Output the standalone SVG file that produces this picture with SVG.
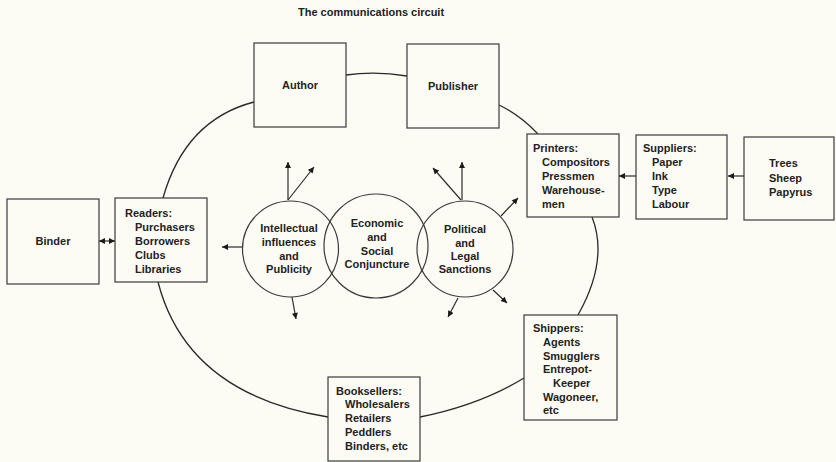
<svg xmlns="http://www.w3.org/2000/svg" width="836" height="462" viewBox="0 0 836 462">
<style>
.bg{fill:#fdfcf4}
.box{fill:#fdfcf4;stroke:#3a3a3a;stroke-width:1.2}
.circ{fill:none;stroke:#3a3a3a;stroke-width:1.2}
.ln{fill:none;stroke:#2a2a2a;stroke-width:1.3}
.ar{fill:none;stroke:#2a2a2a;stroke-width:1.2;marker-end:url(#ah)}
text{font-family:"Liberation Sans",Arial,sans-serif;font-size:11px;font-weight:bold;fill:#222}
.c{text-anchor:middle}
</style>
<defs>
<marker id="ah" viewBox="0 0 10 10" refX="10" refY="5" markerWidth="7" markerHeight="6" markerUnits="userSpaceOnUse" orient="auto-start-reverse">
<path d="M0,0 L10,5 L0,10 z" fill="#1a1a1a"/>
</marker>
</defs>
<rect class="bg" x="0" y="0" width="836" height="462"/>
<text x="298" y="16">The communications circuit</text>

<g id="connectors">
<path class="ln" d="M254,102 Q185,120 163,198"/>
<path class="ln" d="M158,282 Q187,394 328,417"/>
<path class="ln" d="M420,417 Q480,405 524,378"/>
<path class="ln" d="M578,315 Q609,260 592,217"/>
<path class="ln" d="M499,105 Q520,115 538,134"/>
<path class="ln" d="M346,75 Q376,71 407,76"/>
<line class="ar" x1="99" y1="241" x2="115" y2="241" style="marker-start:url(#ah)"/>
<line class="ar" x1="636" y1="176" x2="619" y2="176"/>
<line class="ar" x1="744" y1="176" x2="728" y2="176"/>
<line class="ar" x1="288" y1="200" x2="288" y2="162"/>
<line class="ar" x1="288" y1="200" x2="314" y2="167"/>
<line class="ar" x1="243" y1="247" x2="222" y2="247"/>
<line class="ar" x1="292" y1="297" x2="296" y2="319"/>
<line class="ar" x1="462" y1="200" x2="462" y2="162"/>
<line class="ar" x1="461" y1="200" x2="433" y2="168"/>
<line class="ar" x1="501" y1="216" x2="518" y2="198"/>
<line class="ar" x1="493" y1="290" x2="507" y2="303"/>
<line class="ar" x1="458" y1="298" x2="448" y2="317"/>
</g>

<g id="binder">
<rect class="box" x="7" y="199" width="92" height="85"/>
<text class="c" x="53" y="245">Binder</text>
</g>
<g id="readers">
<rect class="box" x="115" y="198" width="92" height="84"/>
<text x="125" y="217">Readers:</text>
<text x="135" y="231">Purchasers</text>
<text x="135" y="245">Borrowers</text>
<text x="135" y="259">Clubs</text>
<text x="135" y="273">Libraries</text>
</g>
<g id="author">
<rect class="box" x="254" y="43" width="92" height="84"/>
<text class="c" x="300" y="89">Author</text>
</g>
<g id="publisher">
<rect class="box" x="407" y="44" width="92" height="84"/>
<text class="c" x="453" y="90">Publisher</text>
</g>
<g id="printers">
<rect class="box" x="527" y="134" width="92" height="83"/>
<text x="533" y="152">Printers:</text>
<text x="542" y="166">Compositors</text>
<text x="542" y="180">Pressmen</text>
<text x="542" y="194">Warehouse-</text>
<text x="542" y="208">men</text>
</g>
<g id="suppliers">
<rect class="box" x="636" y="135" width="91" height="84"/>
<text x="643" y="152">Suppliers:</text>
<text x="652" y="166">Paper</text>
<text x="652" y="180">Ink</text>
<text x="652" y="194">Type</text>
<text x="652" y="208">Labour</text>
</g>
<g id="trees">
<rect class="box" x="744" y="137" width="90" height="83"/>
<text x="769" y="167">Trees</text>
<text x="769" y="182">Sheep</text>
<text x="769" y="196">Papyrus</text>
</g>
<g id="shippers">
<rect class="box" x="524" y="315" width="93" height="105"/>
<text x="533" y="332">Shippers:</text>
<text x="543" y="346">Agents</text>
<text x="543" y="360">Smugglers</text>
<text x="543" y="373">Entrepot-</text>
<text x="553" y="387">Keeper</text>
<text x="543" y="401">Wagoneer,</text>
<text x="543" y="414">etc</text>
</g>
<g id="booksellers">
<rect class="box" x="328" y="377" width="92" height="84"/>
<text x="336" y="395">Booksellers:</text>
<text x="345" y="408">Wholesalers</text>
<text x="345" y="422">Retailers</text>
<text x="345" y="436">Peddlers</text>
<text x="345" y="450">Binders, etc</text>
</g>
<g id="intellectual">
<circle class="circ" cx="290.5" cy="249" r="48"/>
<text class="c" x="289" y="232">Intellectual</text>
<text class="c" x="289" y="246">influences</text>
<text class="c" x="289" y="260">and</text>
<text class="c" x="289" y="273">Publicity</text>
</g>
<g id="economic">
<circle class="circ" cx="376" cy="246" r="52"/>
<text class="c" x="377" y="227">Economic</text>
<text class="c" x="377" y="241">and</text>
<text class="c" x="377" y="255">Social</text>
<text class="c" x="377" y="268">Conjuncture</text>
</g>
<g id="political">
<circle class="circ" cx="465" cy="249" r="48"/>
<text class="c" x="465" y="233">Political</text>
<text class="c" x="465" y="247">and</text>
<text class="c" x="465" y="260">Legal</text>
<text class="c" x="465" y="273">Sanctions</text>
</g>
</svg>
